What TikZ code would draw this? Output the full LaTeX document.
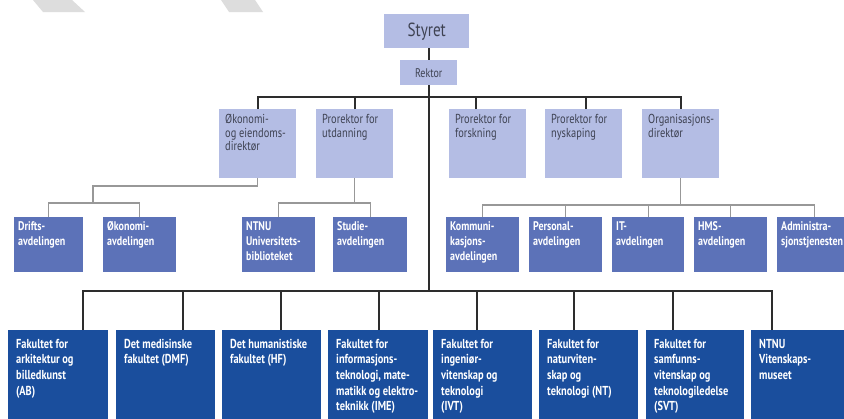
\documentclass[tikz,border=0pt]{standalone}
\usepackage{fontspec}
\setmainfont{PT Sans}[FakeStretch=0.8]
\usepackage{tikz}
\definecolor{colorlilla} {RGB}{180,189,228}
\definecolor{coloravd}   {RGB}{92,114,184}
\definecolor{colorfak}   {RGB}{26,78,157}
\definecolor{colortekst} {RGB}{62,66,82}
\definecolor{colorlinje} {RGB}{45,45,45}
\definecolor{colorgraa}  {RGB}{152,152,152}
\definecolor{colorvann}  {RGB}{221,221,221}

% top-aligned text in a box of fixed size
\newcommand{\boks}[3]{\parbox[t][#2][t]{#1}{\begin{tabular}[t]{@{}l@{}}#3\end{tabular}}}

\begin{document}
\begin{tikzpicture}[
    x=1pt, y=-1pt,
    styre/.style={fill=colorlilla,text=colortekst,anchor=north west,inner sep=0pt},
    lilla/.style={fill=colorlilla,text=colortekst,anchor=north west,inner xsep=6pt,inner ysep=5pt,
        font={\fontsize{13}{13.5}\selectfont}},
    avd/.style={fill=coloravd,text=white,anchor=north west,inner xsep=4pt,inner ysep=3pt,
        font={\fontsize{12.5}{15}\selectfont\bfseries}},
    fak/.style={fill=colorfak,text=white,anchor=north west,inner xsep=8pt,inner ysep=7pt,
        font={\fontsize{13}{15.7}\selectfont\bfseries}},
    hoved/.style={draw=colorlinje,line width=1.8pt},
    tynn/.style={draw=colorgraa,line width=1.3pt},
]

    \clip (0,0) rectangle (844,418);
    \fill[white] (0,0) rectangle (844,418);
    \fill[colorvann] (33,0) -- (72,0) -- (85,12) -- (43,12) -- cycle;
    \fill[colorvann] (221,0) -- (255,0) -- (263,12) -- (229,12) -- cycle;

    \coordinate (toppbar) at (0,97);
    \coordinate (okknekk) at (93,186);
    \coordinate (avdbar) at (0,203);
    \coordinate (orgbar) at (0,205);
    \coordinate (fakbar) at (0,291);

    % ledelse
    \node[styre,minimum width=85pt,minimum height=34pt,font={\fontsize{19}{22}\selectfont}] (styret) at (384,14) {Styret};
    \node[styre,minimum width=57pt,minimum height=25pt,font={\fontsize{12.5}{14}\selectfont}] (rektor) at (400,60) {Rektor};

    \node[lilla] (okdir) at (219,109) {\boks{65pt}{59pt}{Økonomi-\\og eiendoms-\\direktør}};
    \node[lilla] (utd) at (316,109) {\boks{65pt}{59pt}{Prorektor for\\utdanning}};
    \node[lilla] (fors) at (449,109) {\boks{65pt}{59pt}{Prorektor for\\forskning}};
    \node[lilla] (nys) at (545,109) {\boks{65pt}{59pt}{Prorektor for\\nyskaping}};
    \node[lilla] (orgdir) at (642,109) {\boks{65pt}{59pt}{Organisasjons-\\direktør}};

    % avdelinger
    \node[avd] (drift) at (14,217) {\boks{61pt}{49pt}{Drifts-\\avdelingen}};
    \node[avd] (okavd) at (103,217) {\boks{65pt}{49pt}{Økonomi-\\avdelingen}};
    \node[avd] (bib) at (242,217) {\boks{65pt}{49pt}{NTNU\\Universitets-\\biblioteket}};
    \node[avd] (stud) at (333,217) {\boks{66pt}{49pt}{Studie-\\avdelingen}};
    \node[avd] (komm) at (446,217) {\boks{65pt}{49pt}{Kommuni-\\kasjons-\\avdelingen}};
    \node[avd] (pers) at (529,217) {\boks{65pt}{49pt}{Personal-\\avdelingen}};
    \node[avd] (it) at (612,217) {\boks{64pt}{49pt}{IT-\\avdelingen}};
    \node[avd] (hms) at (694,217) {\boks{65pt}{49pt}{HMS-\\avdelingen}};
    \node[avd] (adm) at (777,217) {\boks{67pt}{49pt}{Administra-\\sjonstjenesten}};

    % fakulteter
    \node[fak] (ab) at (8,330) {\boks{84pt}{86pt}{Fakultet for\\arkitektur og\\billedkunst\\(AB)}};
    \node[fak] (dmf) at (116,330) {\boks{83pt}{86pt}{Det medisinske\\fakultet (DMF)}};
    \node[fak] (hf) at (222,330) {\boks{83pt}{86pt}{Det humanistiske\\fakultet (HF)}};
    \node[fak] (ime) at (328,330) {\boks{84pt}{86pt}{Fakultet for\\informasjons-\\teknologi, mate-\\matikk og elektro-\\teknikk (IME)}};
    \node[fak] (ivt) at (433,330) {\boks{83pt}{86pt}{Fakultet for\\ingeniør-\\vitenskap og\\teknologi\\(IVT)}};
    \node[fak] (nt) at (539,330) {\boks{83pt}{86pt}{Fakultet for\\naturviten-\\skap og\\teknologi (NT)}};
    \node[fak] (svt) at (646,330) {\boks{82pt}{86pt}{Fakultet for\\samfunns-\\vitenskap og\\teknologiledelse\\(SVT)}};
    \node[fak] (mus) at (751,330) {\boks{84pt}{86pt}{NTNU\\Vitenskaps-\\museet}};

    % linjer
    \draw[hoved] (rektor.north |- styret.south) -- (rektor.north);
    \draw[hoved] (rektor.south) -- (rektor.south |- fakbar);
    \draw[hoved] (okdir.north) |- (orgdir.north |- toppbar) -- (orgdir.north);
    \draw[hoved] (utd.north) -- (utd.north |- toppbar);
    \draw[hoved] ([xshift=-12pt]fors.north) -- ([xshift=-12pt]fors.north |- toppbar);
    \draw[hoved] ([xshift=2pt]nys.north) -- ([xshift=2pt]nys.north |- toppbar);

    \draw[hoved] ([xshift=25pt]ab.north) |- ([xshift=-29pt]mus.north |- fakbar) -- ([xshift=-29pt]mus.north);
    \foreach \n/\d in {dmf/17.5,hf/9.5,ime/1,ivt/-5.5,nt/-14.5,svt/-22}
        \draw[hoved] ([xshift=\d pt]\n.north) -- ([xshift=\d pt]\n.north |- fakbar);

    \draw[tynn] (okdir.south) |- (okknekk) -- (okknekk |- avdbar);
    \draw[tynn] (drift.north) |- (okavd.north |- avdbar) -- (okavd.north);
    \draw[tynn] (utd.south) -- (utd.south |- avdbar);
    \draw[tynn] (bib.north) |- (stud.north |- avdbar) -- (stud.north);
    \draw[tynn] (orgdir.south) -- (orgdir.south |- orgbar);
    \draw[tynn] (komm.north) |- (adm.north |- orgbar) -- (adm.north);
    \foreach \n in {pers,it,hms}
        \draw[tynn] (\n.north) -- (\n.north |- orgbar);

\end{tikzpicture}
\end{document}
